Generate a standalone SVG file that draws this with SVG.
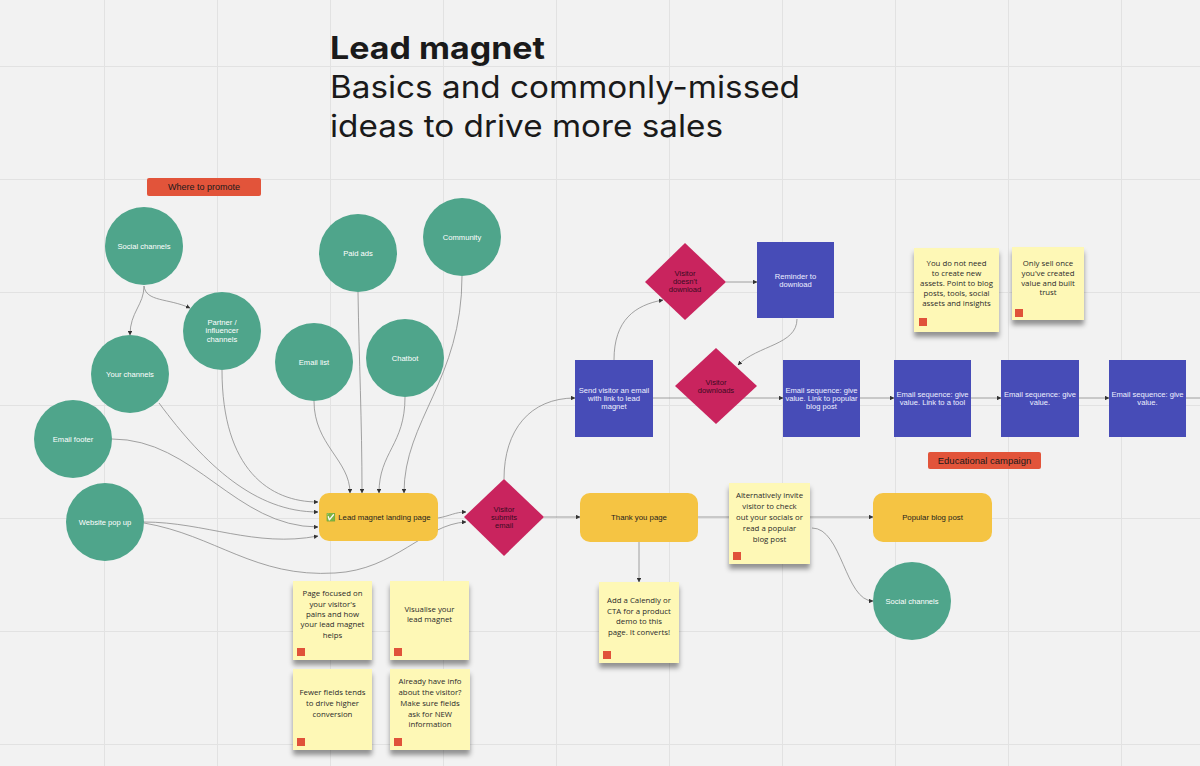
<svg xmlns="http://www.w3.org/2000/svg" width="1200" height="766" viewBox="0 0 1200 766">
<defs>
<style>
.grid line{stroke:#e2e2e2;stroke-width:1}
.circ{fill:#4fa58b}
.ctext{font-family:"Liberation Sans",Arial,sans-serif;font-size:7.6px;fill:#ffffff;text-anchor:middle}
.blue{fill:#474cb7}
.btext{font-family:"Liberation Sans",Arial,sans-serif;font-size:7.6px;fill:#eef0ff;text-anchor:middle}
.dia{fill:#c9245e}
.dtext{font-family:"Liberation Sans",Arial,sans-serif;font-size:7.6px;fill:#3a0b22;text-anchor:middle}
.ybox{fill:#f5c443}
.ytext{font-family:"Liberation Sans",Arial,sans-serif;font-size:7.8px;fill:#1e1e1e;text-anchor:middle}
.sticky{fill:#fef8b6}
.stext{font-family:"Open Sans","Noto Sans",sans-serif;font-size:7.8px;fill:#2a2a2a;text-anchor:middle}
.sq{fill:#e0523a}
.lbl{fill:#e2543a}
.ltext{font-family:"Liberation Sans",Arial,sans-serif;fill:#1a1a1a;text-anchor:middle}
.conn path{fill:none;stroke:#8c8c8c;stroke-width:0.8;marker-end:url(#arr)}
</style>
<marker id="arr" viewBox="0 0 6 6" refX="5.5" refY="3" markerWidth="4.5" markerHeight="4.5" orient="auto" markerUnits="userSpaceOnUse">
<path d="M0,0 L6,3 L0,6 z" fill="#333"/>
</marker>
<filter id="sh" x="-20%" y="-20%" width="140%" height="150%">
<feDropShadow dx="0" dy="5" stdDeviation="2.5" flood-color="#000" flood-opacity="0.4"/>
</filter>
</defs>
<rect width="1200" height="766" fill="#f2f2f2"/>
<g class="grid">
<line x1="104.5" y1="0" x2="104.5" y2="766"/><line x1="217.5" y1="0" x2="217.5" y2="766"/><line x1="330.5" y1="0" x2="330.5" y2="766"/><line x1="443.5" y1="0" x2="443.5" y2="766"/><line x1="556.5" y1="0" x2="556.5" y2="766"/><line x1="669.5" y1="0" x2="669.5" y2="766"/><line x1="782.5" y1="0" x2="782.5" y2="766"/><line x1="895.5" y1="0" x2="895.5" y2="766"/><line x1="1008.5" y1="0" x2="1008.5" y2="766"/><line x1="1121.5" y1="0" x2="1121.5" y2="766"/>
<line x1="0" y1="66.5" x2="1200" y2="66.5"/><line x1="0" y1="179.5" x2="1200" y2="179.5"/><line x1="0" y1="292.5" x2="1200" y2="292.5"/><line x1="0" y1="405.5" x2="1200" y2="405.5"/><line x1="0" y1="518.5" x2="1200" y2="518.5"/><line x1="0" y1="631.5" x2="1200" y2="631.5"/><line x1="0" y1="744.5" x2="1200" y2="744.5"/>
</g>
<g id="title">
<text x="330" y="59" font-family="Inter,'Noto Sans',sans-serif" font-weight="700" font-size="31" fill="#1a1a1a" textLength="215" lengthAdjust="spacingAndGlyphs">Lead magnet</text>
<text x="330" y="98" font-family="Inter,'Noto Sans',sans-serif" font-size="31" fill="#1a1a1a" textLength="470" lengthAdjust="spacingAndGlyphs">Basics and commonly-missed</text>
<text x="330" y="137" font-family="Inter,'Noto Sans',sans-serif" font-size="31" fill="#1a1a1a" textLength="393" lengthAdjust="spacingAndGlyphs">ideas to drive more sales</text>
</g>
<g class="conn" id="connectors">
<path d="M144,286 C144,305 130,312 130,335"/>
<path d="M144,286 C146,302 168,298 190,308"/>
<path d="M222,370 C222,470 270,502 318,502"/>
<path d="M159,403 C205,465 255,512 318,512"/>
<path d="M112,439 C195,439 235,527 318,527"/>
<path d="M144,522 C205,522 255,548 318,536"/>
<path d="M144,523 C215,535 255,578 335,573 C395,570 425,524 466,522"/>
<path d="M314,401 C314,445 350,460 350,493"/>
<path d="M358,292 C359,360 362,420 362,493"/>
<path d="M405,397 C405,445 379,452 379,493"/>
<path d="M462,276 C462,380 404,420 404,493"/>
<path d="M438,518 C450,516 455,512 466,512"/>
<path d="M544,517 L580,517"/>
<path d="M504,479 C504,430 530,398 575,398"/>
<path d="M614,360 C614,320 635,305 663,300"/>
<path d="M726,282 L757,282"/>
<path d="M797,319 C797,345 758,345 738,365"/>
<path d="M653,398 L783,398"/>
<path d="M860,398 L894,398"/>
<path d="M971,398 L1001,398"/>
<path d="M1079,398 L1109,398"/>
<path d="M1186,398 L1202,398" style="marker-end:none"/>
<path d="M639,542 L639,582"/>
<path d="M698,517 L873,517"/>
<path d="M812,528 C842,528 845,601 873,601"/>
</g>
<g id="label-where"><rect class="lbl" x="147" y="178" width="114" height="18" rx="2"/><text class="ltext" x="204" y="190" font-size="9">Where to promote</text></g>
<g id="label-edu"><rect class="lbl" x="928" y="452" width="113" height="17" rx="2"/><text class="ltext" x="984.5" y="464" font-size="9.5">Educational campaign</text></g>
<g id="social"><circle class="circ" cx="144" cy="246" r="39"/><text class="ctext" x="144" y="248.7">Social channels</text></g>
<g id="partner"><circle class="circ" cx="222" cy="331" r="39"/><text class="ctext" x="222" y="325">Partner /</text><text class="ctext" x="222" y="333.4">influencer</text><text class="ctext" x="222" y="341.8">channels</text></g>
<g id="yourch"><circle class="circ" cx="130" cy="374" r="39"/><text class="ctext" x="130" y="377">Your channels</text></g>
<g id="footer"><circle class="circ" cx="73" cy="439" r="39"/><text class="ctext" x="73" y="442">Email footer</text></g>
<g id="popup"><circle class="circ" cx="105" cy="522" r="39"/><text class="ctext" x="105" y="524.7">Website pop up</text></g>
<g id="paid"><circle class="circ" cx="358" cy="253" r="39"/><text class="ctext" x="358" y="256">Paid ads</text></g>
<g id="emaillist"><circle class="circ" cx="314" cy="362" r="39"/><text class="ctext" x="314" y="364.5">Email list</text></g>
<g id="chatbot"><circle class="circ" cx="405" cy="358" r="39"/><text class="ctext" x="405" y="360.5">Chatbot</text></g>
<g id="community"><circle class="circ" cx="462" cy="237" r="39"/><text class="ctext" x="462" y="240">Community</text></g>
<g id="social2"><circle class="circ" cx="912" cy="601" r="39"/><text class="ctext" x="912" y="603.7">Social channels</text></g>
<g id="landing"><rect class="ybox" x="319" y="493" width="119" height="48" rx="10"/><text class="ytext" x="378.5" y="520"><tspan font-family="'Noto Color Emoji','DejaVu Sans',sans-serif" fill="#3bb54a">✅</tspan> Lead magnet landing page</text></g>
<g id="thankyou"><rect class="ybox" x="580" y="493" width="118" height="49" rx="10"/><text class="ytext" x="639" y="520">Thank you page</text></g>
<g id="popular"><rect class="ybox" x="873" y="493" width="119" height="49" rx="10"/><text class="ytext" x="932.5" y="520">Popular blog post</text></g>
<g id="submits"><polygon class="dia" points="504,479 544,517 504,556 464,517"/><text class="dtext" x="504" y="511.5">Visitor</text><text class="dtext" x="504" y="519.5">submits</text><text class="dtext" x="504" y="527.5">email</text></g>
<g id="doesnt"><polygon class="dia" points="685,243 726,282 685,320 645,282"/><text class="dtext" x="685" y="276">Visitor</text><text class="dtext" x="685" y="284">doesn't</text><text class="dtext" x="685" y="292">download</text></g>
<g id="downloads"><polygon class="dia" points="716,348 757,386 716,424 675,386"/><text class="dtext" x="716" y="385">Visitor</text><text class="dtext" x="716" y="393">downloads</text></g>
<g id="sendemail"><rect class="blue" x="575" y="360" width="78" height="77"/><text class="btext" x="614" y="393">Send visitor an email</text><text class="btext" x="614" y="401.3">with link to lead</text><text class="btext" x="614" y="409.4">magnet</text></g>
<g id="reminder"><rect class="blue" x="757" y="242" width="77" height="76"/><text class="btext" x="795.5" y="278.5">Reminder to</text><text class="btext" x="795.5" y="286.5">download</text></g>
<g id="seq1"><rect class="blue" x="783" y="360" width="77" height="77"/><text class="btext" x="821.5" y="393.4">Email sequence: give</text><text class="btext" x="821.5" y="401.4">value. Link to popular</text><text class="btext" x="821.5" y="409.4">blog post</text></g>
<g id="seq2"><rect class="blue" x="894" y="360" width="77" height="77"/><text class="btext" x="932.5" y="397">Email sequence: give</text><text class="btext" x="932.5" y="405">value. Link to a tool</text></g>
<g id="seq3"><rect class="blue" x="1001" y="360" width="78" height="77"/><text class="btext" x="1040" y="397">Email sequence: give</text><text class="btext" x="1040" y="405">value.</text></g>
<g id="seq4"><rect class="blue" x="1109" y="360" width="77" height="77"/><text class="btext" x="1147.5" y="397">Email sequence: give</text><text class="btext" x="1147.5" y="405">value.</text></g>
<g id="note-page"><rect class="sticky" x="293" y="581" width="79" height="79" filter="url(#sh)"/><rect class="sq" x="297" y="648" width="8" height="8"/><text class="stext" x="332.5" y="596">Page focused on</text><text class="stext" x="332.5" y="606.5">your visitor's</text><text class="stext" x="332.5" y="617">pains and how</text><text class="stext" x="332.5" y="627.3">your lead magnet</text><text class="stext" x="332.5" y="637.6">helps</text></g>
<g id="note-visual"><rect class="sticky" x="390" y="581" width="79" height="79" filter="url(#sh)"/><rect class="sq" x="394" y="648" width="8" height="8"/><text class="stext" x="429.5" y="612">Visualise your</text><text class="stext" x="429.5" y="622.3">lead magnet</text></g>
<g id="note-fewer"><rect class="sticky" x="293" y="669" width="79" height="81" filter="url(#sh)"/><rect class="sq" x="297" y="738" width="8" height="8"/><text class="stext" x="332.5" y="695">Fewer fields tends</text><text class="stext" x="332.5" y="706">to drive higher</text><text class="stext" x="332.5" y="717">conversion</text></g>
<g id="note-already"><rect class="sticky" x="390" y="669" width="80" height="81" filter="url(#sh)"/><rect class="sq" x="394" y="738" width="8" height="8"/><text class="stext" x="430" y="684">Already have info</text><text class="stext" x="430" y="695">about the visitor?</text><text class="stext" x="430" y="706">Make sure fields</text><text class="stext" x="430" y="716.6">ask for NEW</text><text class="stext" x="430" y="727.3">information</text></g>
<g id="note-calendly"><rect class="sticky" x="599" y="582" width="80" height="81" filter="url(#sh)"/><rect class="sq" x="603" y="651" width="8" height="8"/><text class="stext" x="639" y="603">Add a Calendly or</text><text class="stext" x="639" y="613.6">CTA for a product</text><text class="stext" x="639" y="624.2">demo to this</text><text class="stext" x="639" y="635">page. It converts!</text></g>
<g id="note-alt"><rect class="sticky" x="729" y="483" width="81" height="81" filter="url(#sh)"/><rect class="sq" x="733" y="552" width="8" height="8"/><text class="stext" x="769.5" y="498">Alternatively invite</text><text class="stext" x="769.5" y="509">visitor to check</text><text class="stext" x="769.5" y="520">out your socials or</text><text class="stext" x="769.5" y="530.8">read a popular</text><text class="stext" x="769.5" y="541.6">blog post</text></g>
<g id="note-assets"><rect class="sticky" x="914" y="248" width="85" height="84" filter="url(#sh)"/><rect class="sq" x="919" y="318" width="8" height="8"/><text class="stext" x="956.5" y="266">You do not need</text><text class="stext" x="956.5" y="276">to create new</text><text class="stext" x="956.5" y="286">assets. Point to blog</text><text class="stext" x="956.5" y="296">posts, tools, social</text><text class="stext" x="956.5" y="306">assets and insights</text></g>
<g id="note-sell"><rect class="sticky" x="1012" y="247" width="72" height="73" filter="url(#sh)"/><rect class="sq" x="1015" y="309" width="8" height="8"/><text class="stext" x="1048" y="266">Only sell once</text><text class="stext" x="1048" y="276">you've created</text><text class="stext" x="1048" y="285.6">value and built</text><text class="stext" x="1048" y="295.4">trust</text></g>
</svg>
